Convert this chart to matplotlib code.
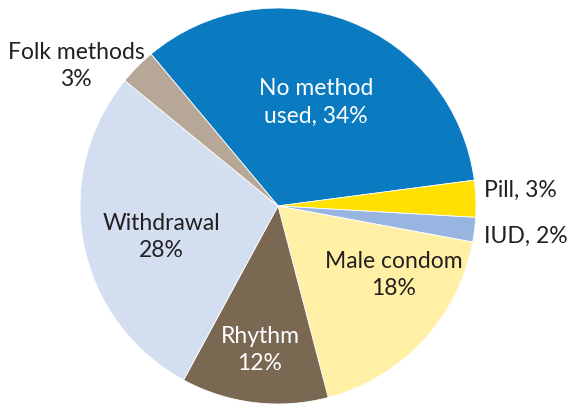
import matplotlib
matplotlib.use("Agg")
import matplotlib.pyplot as plt

labels = ["No method used", "Pill", "IUD", "Male condom", "Rhythm", "Withdrawal", "Folk methods"]
values = [34, 3, 2, 18, 12, 28, 3]
colors = ["#0a7bc1", "#ffe000", "#98b4e0", "#fff0a6", "#7a6852", "#d3dff1", "#b7a797"]
label_texts = ["No method\nused, 34%", "Pill, 3%", "IUD, 2%", "Male condom\n18%",
               "Rhythm\n12%", "Withdrawal\n28%", "Folk methods\n3%"]

W, H = 573, 406
fig = plt.figure(figsize=(W / 100, H / 100), dpi=100)
cx, cy, R = 278, 207, 198
ax = fig.add_axes([(cx - R) / W, (H - cy - R) / H, 2 * R / W, 2 * R / H])
ax.pie(values, colors=colors, startangle=129.9, counterclock=False,
       radius=1, wedgeprops=dict(edgecolor="white", linewidth=0.6))
ax.set_xlim(-1, 1)
ax.set_ylim(-1, 1)
ax.set_aspect("equal")
ax.axis("off")

def px(x, y):
    return (x - cx) / R, (cy - y) / R

font = "Lato"
fs = 16.5
dark = "#231f20"
positions = [(316, 102, "center", "white"),
             (484, 190, "left", dark),
             (484, 236, "left", dark),
             (394, 275, "center", dark),
             (260, 350, "center", "white"),
             (161, 237, "center", dark),
             (76, 66, "center", dark)]
for t, (x, y, ha, c) in zip(label_texts, positions):
    dx, dy = px(x, y)
    ax.text(dx, dy, t, ha=ha, va="center", color=c, fontsize=fs,
            family=font, linespacing=1.4, clip_on=False)

fig.savefig("out.png", dpi=100)
